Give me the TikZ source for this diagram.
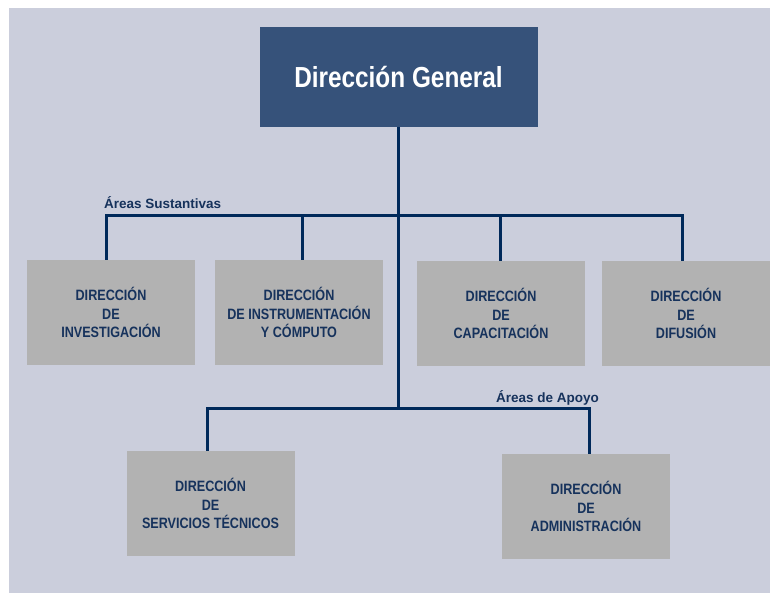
\documentclass[tikz,border=0pt]{standalone}
\usepackage{fontspec}
\setmainfont{Liberation Sans}
\newfontfamily\narrowfont[FakeStretch=0.84]{Liberation Sans}
\usepackage{xcolor}

\definecolor{fondo}{RGB}{203,206,220}
\definecolor{azulcaja}{RGB}{54,82,122}
\definecolor{azullinea}{RGB}{0,41,90}
\definecolor{azultexto}{RGB}{22,50,92}
\definecolor{griscaja}{RGB}{178,178,178}

\begin{document}
\begin{tikzpicture}[x=1pt, y=-1pt]
        % ================= estilos =================
        \tikzset{
            % caja superior azul
            dirgeneral/.style={rectangle, fill=azulcaja, minimum width=278pt, minimum height=100pt, inner sep=0pt, text=white, font=\narrowfont\bfseries\fontsize{29}{34}\selectfont},
            % cajas grises de las direcciones
            dirbox/.style={rectangle, fill=griscaja, minimum width=168pt, minimum height=105pt, inner sep=0pt, align=center, text=azultexto, font=\narrowfont\bfseries\fontsize{15}{18.5}\selectfont},
            % lineas del organigrama
            linea/.style={line width=3pt, azullinea},
            % textos de las areas
            areatxt/.style={inner sep=0pt, text=azultexto, font=\bfseries\fontsize{13.5}{16}\selectfont}
        }

        % ================= fondo =================
        \useasboundingbox (0,0) rectangle (770,593);
        \fill[fondo] (9,8) rectangle (770,593);

        % ================= nodos =================
        \node[dirgeneral] (general) at (398.5,77) {Dirección General};

        % areas sustantivas
        \node[dirbox] (inv) at (111,312.5) {DIRECCIÓN\\DE\\INVESTIGACIÓN};
        \node[dirbox] (ins) at (299,312.5) {DIRECCIÓN\\DE INSTRUMENTACIÓN\\Y CÓMPUTO};
        \node[dirbox] (cap) at (501,313.5) {DIRECCIÓN\\DE\\CAPACITACIÓN};
        \node[dirbox] (dif) at (686,313.5) {DIRECCIÓN\\DE\\DIFUSIÓN};

        % areas de apoyo
        \node[dirbox] (ser) at (210.5,503.5) {DIRECCIÓN\\DE\\SERVICIOS TÉCNICOS};
        \node[dirbox] (adm) at (586,506.5) {DIRECCIÓN\\DE\\ADMINISTRACIÓN};

        % ================= puntos de las lineas =================
        \coordinate (s1) at (106,216);
        \coordinate (s2) at (302,216);
        \coordinate (s3) at (500,216);
        \coordinate (s4) at (682,216);
        \coordinate (a1) at (207,408);
        \coordinate (a2) at (589,408);

        % ================= lineas =================
        % tronco central
        \draw[linea] (general.south) -- (general.south |- a1);

        % barra de areas sustantivas
        \draw[linea] (s1 |- inv.north) -- (s1) -- (s4) -- (s4 |- dif.north);
        \draw[linea] (s2) -- (s2 |- ins.north);
        \draw[linea] (s3) -- (s3 |- cap.north);

        % barra de areas de apoyo
        \draw[linea] (a1 |- ser.north) -- (a1) -- (a2) -- (a2 |- adm.north);

        % ================= etiquetas =================
        \node[areatxt, anchor=base west] (sust) at (104,209) {Áreas Sustantivas};
        \node[areatxt, anchor=base west] (apoyo) at (496,402) {Áreas de Apoyo};

\end{tikzpicture}
\end{document}
